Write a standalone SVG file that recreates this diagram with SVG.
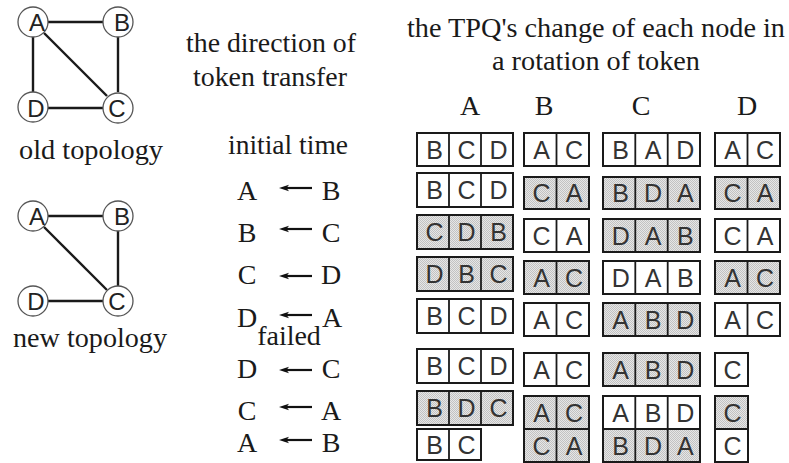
<svg xmlns="http://www.w3.org/2000/svg" width="789" height="463" viewBox="0 0 789 463">
<defs>
  <pattern id="dots" width="2" height="2" patternUnits="userSpaceOnUse">
    <rect width="2" height="2" fill="#e6e6e6"/>
    <rect width="1" height="1" fill="#c2c2c2"/>
    <rect x="1" y="1" width="1" height="1" fill="#c2c2c2"/>
  </pattern>
  <marker id="head" viewBox="0 0 10 8" refX="5" refY="4" markerWidth="10" markerHeight="8" markerUnits="userSpaceOnUse" orient="auto">
    <path d="M0,0.8 L10,4 L0,7.2 L2.5,4 Z" fill="#111"/>
  </marker>
</defs>
<style>
  .serif { font-family: "Liberation Serif", "Times New Roman", serif; font-size: 28px; fill: #1a1a1a; }
  .mid { text-anchor: middle; }
  .node circle { fill: #fff; stroke: #555; stroke-width: 1.3; }
  .node text { font-family: "Liberation Sans", Arial, sans-serif; font-size: 24px; fill: #222; text-anchor: middle; }
  .edge { stroke: #1a1a1a; stroke-width: 2.4; fill: none; }
  .arrow { stroke: #111; stroke-width: 2.2; marker-end: url(#head); }
  .box rect { stroke: #1a1a1a; stroke-width: 2; }
  .box line { stroke: #1a1a1a; stroke-width: 1.8; }
  .box text { font-family: "Liberation Sans", Arial, sans-serif; font-size: 25px; fill: #333; text-anchor: middle; }
  .white rect { fill: #fff; }
  .shade rect { fill: url(#dots); }
</style>
<rect width="789" height="463" fill="#fff"/>

<!-- old topology -->
<g id="old-edges">
  <line class="edge" x1="48" y1="22" x2="103" y2="22"/>
  <line class="edge" x1="33" y1="37" x2="33" y2="92"/>
  <line class="edge" x1="44" y1="33" x2="107" y2="96"/>
  <line class="edge" x1="118" y1="37" x2="118" y2="92"/>
  <line class="edge" x1="48" y1="108" x2="103" y2="108"/>
</g>
<g id="old-A" class="node"><circle cx="33" cy="22" r="15"/><text x="37" y="30.5">A</text></g>
<g id="old-B" class="node"><circle cx="118" cy="22" r="15"/><text x="122" y="31">B</text></g>
<g id="old-D" class="node"><circle cx="33" cy="107" r="15"/><text x="36" y="116.5">D</text></g>
<g id="old-C" class="node"><circle cx="118" cy="108" r="15"/><text x="117" y="117">C</text></g>
<text class="serif" x="19" y="159" textLength="144" lengthAdjust="spacingAndGlyphs">old topology</text>

<!-- new topology -->
<g id="new-edges">
  <line class="edge" x1="48" y1="216" x2="103" y2="216"/>
  <line class="edge" x1="44" y1="227" x2="107" y2="290"/>
  <line class="edge" x1="118" y1="231" x2="118" y2="286"/>
  <line class="edge" x1="48" y1="301" x2="103" y2="301"/>
</g>
<g id="new-A" class="node"><circle cx="33" cy="216" r="15"/><text x="37" y="224.5">A</text></g>
<g id="new-B" class="node"><circle cx="118" cy="216" r="15"/><text x="122" y="224.5">B</text></g>
<g id="new-D" class="node"><circle cx="33" cy="301" r="15"/><text x="36" y="310">D</text></g>
<g id="new-C" class="node"><circle cx="118" cy="301" r="15"/><text x="117" y="310">C</text></g>
<text class="serif" x="13" y="347" textLength="154" lengthAdjust="spacingAndGlyphs">new topology</text>

<!-- direction of token transfer -->
<text class="serif mid" x="271" y="52" textLength="170" lengthAdjust="spacingAndGlyphs">the direction of</text>
<text class="serif mid" x="270" y="86" textLength="154" lengthAdjust="spacingAndGlyphs">token transfer</text>
<text class="serif" x="228" y="154" textLength="120" lengthAdjust="spacingAndGlyphs">initial time</text>

<g id="transfers">
  <line class="arrow" x1="312" y1="188" x2="284" y2="188"/>
  <line class="arrow" x1="312" y1="229" x2="284" y2="229"/>
  <line class="arrow" x1="312" y1="276" x2="284" y2="276"/>
  <line class="arrow" x1="312" y1="315" x2="284" y2="315"/>
  <line class="arrow" x1="312" y1="370" x2="284" y2="370"/>
  <line class="arrow" x1="312" y1="407" x2="284" y2="407"/>
  <line class="arrow" x1="312" y1="440" x2="284" y2="440"/>
</g>
<g id="transfer-labels" class="serif mid">
  <text x="247 331" y="200">AB</text>
  <text x="247 331" y="242">BC</text>
  <text x="247 331" y="284">CD</text>
  <text x="247 332" y="327">DA</text>
  <text x="289" y="345">failed</text>
  <text x="247 331" y="378">DC</text>
  <text x="247 331" y="420">CA</text>
  <text x="247 331" y="452">AB</text>
</g>

<!-- TPQ table -->
<text class="serif mid" x="596" y="37" textLength="378" lengthAdjust="spacingAndGlyphs">the TPQ's change of each node in</text>
<text class="serif mid" x="596" y="70" textLength="208" lengthAdjust="spacingAndGlyphs">a rotation of token</text>
<g id="headers" class="serif mid">
  <text x="470" y="115">A</text>
  <text x="544" y="115">B</text>
  <text x="641" y="115">C</text>
  <text x="747" y="115">D</text>
</g>

<!-- column A -->
<g id="A1" class="box white"><rect x="417" y="133" width="96" height="33"/><line x1="449" y1="133" x2="449" y2="166"/><line x1="481" y1="133" x2="481" y2="166"/><text x="434.5 466.5 498.5" y="158.5">BCD</text></g>
<g id="A2" class="box white"><rect x="417" y="173" width="96" height="34"/><line x1="449" y1="173" x2="449" y2="207"/><line x1="481" y1="173" x2="481" y2="207"/><text x="434.5 466.5 498.5" y="199">BCD</text></g>
<g id="A3" class="box shade"><rect x="417" y="215" width="96" height="34"/><line x1="449" y1="215" x2="449" y2="249"/><line x1="481" y1="215" x2="481" y2="249"/><text x="434.5 466.5 498.5" y="241">CDB</text></g>
<g id="A4" class="box shade"><rect x="417" y="257" width="96" height="34"/><line x1="449" y1="257" x2="449" y2="291"/><line x1="481" y1="257" x2="481" y2="291"/><text x="434.5 466.5 498.5" y="283">DBC</text></g>
<g id="A5" class="box white"><rect x="417" y="299" width="96" height="34"/><line x1="449" y1="299" x2="449" y2="333"/><line x1="481" y1="299" x2="481" y2="333"/><text x="434.5 466.5 498.5" y="325">BCD</text></g>
<g id="A6" class="box white"><rect x="417" y="349" width="96" height="34"/><line x1="449" y1="349" x2="449" y2="383"/><line x1="481" y1="349" x2="481" y2="383"/><text x="434.5 466.5 498.5" y="375">BCD</text></g>
<g id="A7" class="box shade"><rect x="417" y="391" width="96" height="34"/><line x1="449" y1="391" x2="449" y2="425"/><line x1="481" y1="391" x2="481" y2="425"/><text x="434.5 466.5 498.5" y="417">BDC</text></g>
<g id="A8" class="box white"><rect x="417" y="429" width="64" height="31"/><line x1="449" y1="429" x2="449" y2="460"/><text x="434.5 466.5" y="454">BC</text></g>

<!-- column B -->
<g id="B1" class="box white"><rect x="524" y="133" width="65" height="33"/><line x1="556.5" y1="133" x2="556.5" y2="166"/><text x="541.5 574" y="158.5">AC</text></g>
<g id="B2" class="box shade"><rect x="524" y="177" width="65" height="32"/><line x1="556.5" y1="177" x2="556.5" y2="209"/><text x="541.5 574" y="202">CA</text></g>
<g id="B3" class="box white"><rect x="524" y="219" width="65" height="33"/><line x1="556.5" y1="219" x2="556.5" y2="252"/><text x="541.5 574" y="244.5">CA</text></g>
<g id="B4" class="box shade"><rect x="524" y="261" width="65" height="33"/><line x1="556.5" y1="261" x2="556.5" y2="294"/><text x="541.5 574" y="286.5">AC</text></g>
<g id="B5" class="box white"><rect x="524" y="303" width="65" height="33"/><line x1="556.5" y1="303" x2="556.5" y2="336"/><text x="541.5 574" y="328.5">AC</text></g>
<g id="B6" class="box white"><rect x="524" y="353" width="65" height="33"/><line x1="556.5" y1="353" x2="556.5" y2="386"/><text x="541.5 574" y="378.5">AC</text></g>
<g id="B7" class="box shade"><rect x="524" y="396" width="65" height="33"/><line x1="556.5" y1="396" x2="556.5" y2="429"/><text x="541.5 574" y="421.5">AC</text></g>
<g id="B8" class="box shade"><rect x="524" y="429" width="65" height="33"/><line x1="556.5" y1="429" x2="556.5" y2="462"/><text x="541.5 574" y="454.5">CA</text></g>

<!-- column C -->
<g id="C1" class="box white"><rect x="603" y="133" width="97" height="33"/><line x1="635.3" y1="133" x2="635.3" y2="166"/><line x1="667.7" y1="133" x2="667.7" y2="166"/><text x="620.7 653 685.3" y="158.5">BAD</text></g>
<g id="C2" class="box shade"><rect x="603" y="177" width="97" height="32"/><line x1="635.3" y1="177" x2="635.3" y2="209"/><line x1="667.7" y1="177" x2="667.7" y2="209"/><text x="620.7 653 685.3" y="202">BDA</text></g>
<g id="C3" class="box shade"><rect x="603" y="219" width="97" height="33"/><line x1="635.3" y1="219" x2="635.3" y2="252"/><line x1="667.7" y1="219" x2="667.7" y2="252"/><text x="620.7 653 685.3" y="244.5">DAB</text></g>
<g id="C4" class="box white"><rect x="603" y="261" width="97" height="33"/><line x1="635.3" y1="261" x2="635.3" y2="294"/><line x1="667.7" y1="261" x2="667.7" y2="294"/><text x="620.7 653 685.3" y="286.5">DAB</text></g>
<g id="C5" class="box shade"><rect x="603" y="303" width="97" height="33"/><line x1="635.3" y1="303" x2="635.3" y2="336"/><line x1="667.7" y1="303" x2="667.7" y2="336"/><text x="620.7 653 685.3" y="328.5">ABD</text></g>
<g id="C6" class="box shade"><rect x="603" y="353" width="97" height="33"/><line x1="635.3" y1="353" x2="635.3" y2="386"/><line x1="667.7" y1="353" x2="667.7" y2="386"/><text x="620.7 653 685.3" y="378.5">ABD</text></g>
<g id="C7" class="box white"><rect x="603" y="396" width="97" height="33"/><line x1="635.3" y1="396" x2="635.3" y2="429"/><line x1="667.7" y1="396" x2="667.7" y2="429"/><text x="620.7 653 685.3" y="421.5">ABD</text></g>
<g id="C8" class="box shade"><rect x="603" y="429" width="97" height="33"/><line x1="635.3" y1="429" x2="635.3" y2="462"/><line x1="667.7" y1="429" x2="667.7" y2="462"/><text x="620.7 653 685.3" y="454.5">BDA</text></g>

<!-- column D -->
<g id="D1" class="box white"><rect x="715" y="133" width="65" height="33"/><line x1="747.5" y1="133" x2="747.5" y2="166"/><text x="732.5 765" y="158.5">AC</text></g>
<g id="D2" class="box shade"><rect x="715" y="177" width="65" height="32"/><line x1="747.5" y1="177" x2="747.5" y2="209"/><text x="732.5 765" y="202">CA</text></g>
<g id="D3" class="box white"><rect x="715" y="219" width="65" height="33"/><line x1="747.5" y1="219" x2="747.5" y2="252"/><text x="732.5 765" y="244.5">CA</text></g>
<g id="D4" class="box shade"><rect x="715" y="261" width="65" height="33"/><line x1="747.5" y1="261" x2="747.5" y2="294"/><text x="732.5 765" y="286.5">AC</text></g>
<g id="D5" class="box white"><rect x="715" y="303" width="65" height="33"/><line x1="747.5" y1="303" x2="747.5" y2="336"/><text x="732.5 765" y="328.5">AC</text></g>
<g id="D6" class="box white"><rect x="715" y="353" width="33" height="33"/><text x="732.5" y="378.5">C</text></g>
<g id="D7" class="box shade"><rect x="715" y="396" width="33" height="33"/><text x="732.5" y="421.5">C</text></g>
<g id="D8" class="box white"><rect x="715" y="429" width="33" height="33"/><text x="732.5" y="454.5">C</text></g>
</svg>
